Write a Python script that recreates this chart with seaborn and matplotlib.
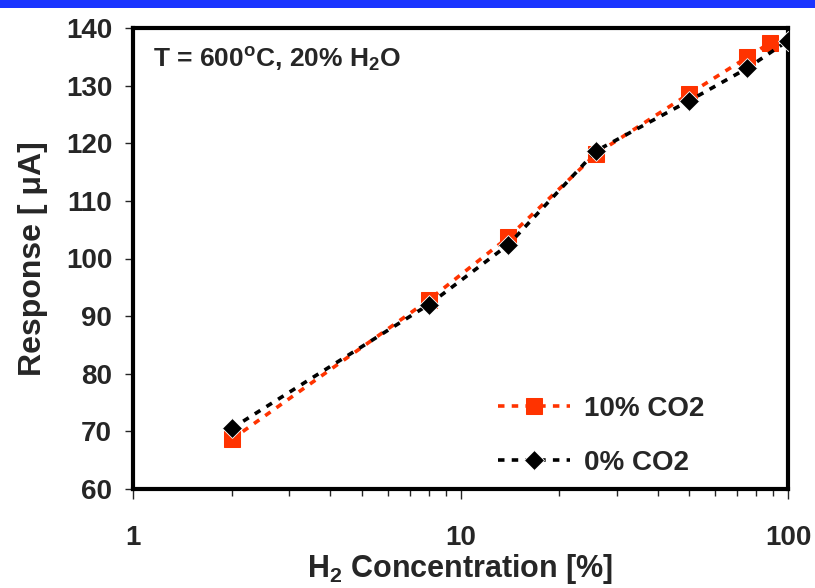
import matplotlib
matplotlib.use("Agg")
import matplotlib.pyplot as plt
import seaborn as sns
import numpy as np
from matplotlib.patches import Rectangle
from matplotlib.ticker import LogLocator, NullFormatter, FixedLocator

# Data
x_co2_10 = [2, 8, 14, 26, 50, 75, 88]
y_co2_10 = [68.6, 92.8, 103.7, 118.2, 128.6, 134.9, 137.4]
x_co2_0 = [2, 8, 14, 26, 50, 75, 100]
y_co2_0 = [70.5, 92.0, 102.4, 118.7, 127.4, 133.0, 137.8]
label_10 = "10% CO2"
label_0 = "0% CO2"
x_ticks = [1, 10, 100]
x_ticklabels = ["1", "10", "100"]
y_ticks = [60, 70, 80, 90, 100, 110, 120, 130, 140]

sns.set_theme(style="white")
plt.rcParams['font.family'] = ['Liberation Sans', 'DejaVu Sans']
plt.rcParams['mathtext.fontset'] = 'custom'
plt.rcParams['mathtext.rm'] = 'Liberation Sans:bold'
plt.rcParams['mathtext.it'] = 'Liberation Sans:bold'
plt.rcParams['mathtext.bf'] = 'Liberation Sans:bold'

fig = plt.figure(figsize=(8.15, 5.88), dpi=100)
ax = fig.add_axes([133/815, 1-489/588, (788-133)/815, (489-28)/588])

# top blue bar
fig.patches.append(Rectangle((0, 1-8/588), 1, 8/588, transform=fig.transFigure,
                             facecolor='#1a35ff', edgecolor='none', zorder=10))

red = '#ff3300'
sns.lineplot(x=x_co2_10, y=y_co2_10, ax=ax, color=red, marker='s', markersize=11,
             markeredgecolor=red, linestyle=(0, (1.8, 2.0)), linewidth=2.6,
             label=label_10, zorder=3)
sns.lineplot(x=x_co2_0, y=y_co2_0, ax=ax, color='black', marker='D', markersize=10,
             markeredgecolor='white', markeredgewidth=0.6, linestyle=(0, (1.8, 2.0)),
             linewidth=2.6, label=label_0, zorder=4)

ax.set_xscale('log')
ax.set_xlim(1, 100)
ax.set_ylim(60, 140)
ax.xaxis.set_major_locator(FixedLocator(x_ticks))
ax.set_xticklabels(x_ticklabels)
ax.xaxis.set_minor_locator(LogLocator(base=10, subs=np.arange(2, 10)))
ax.xaxis.set_minor_formatter(NullFormatter())
ax.set_yticks(y_ticks)

for s in ax.spines.values():
    s.set_linewidth(3)
    s.set_color('black')

ax.tick_params(axis='x', which='major', direction='out', length=7, width=1, pad=19,
               labelsize=20, bottom=True)
ax.tick_params(axis='x', which='minor', direction='out', length=5, width=1, bottom=True)
ax.tick_params(axis='y', which='major', direction='out', length=6, width=1, pad=9,
               labelsize=20, left=True)
for lab in ax.get_xticklabels() + ax.get_yticklabels():
    lab.set_fontweight('bold')

ax.set_xlabel(r"H$_2$ Concentration [%]", fontsize=22, fontweight='bold', labelpad=1)
ax.set_ylabel("Response [ \u03bcA]", fontsize=23, fontweight='bold', labelpad=13)

ax.text(0.03, 0.93, r"T = 600$^o$C, 20% H$_2$O", transform=ax.transAxes,
        fontsize=19, fontweight='bold', va='center', ha='left')

leg = ax.legend(loc='lower right', bbox_to_anchor=(0.91, -0.025), frameon=False,
                handlelength=2.6, handletextpad=0.5, labelspacing=1.0,
                prop={'weight': 'bold', 'size': 20})

fig.savefig('out.png', dpi=100)
